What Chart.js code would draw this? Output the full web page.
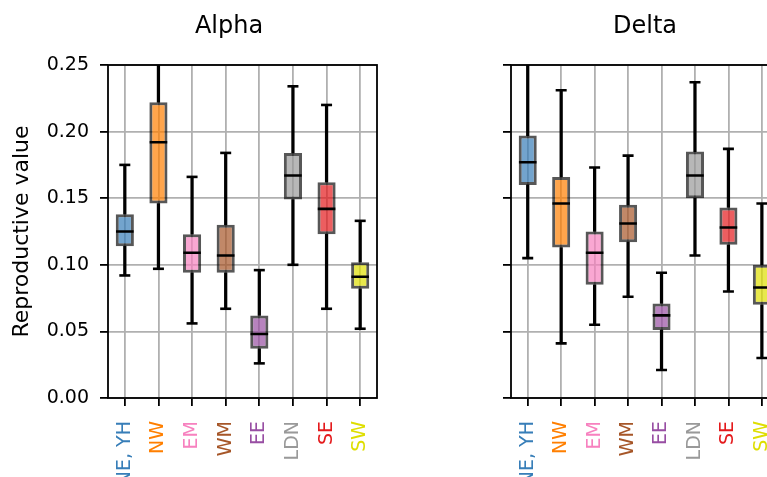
<!DOCTYPE html>
<html>
<head>
<meta charset="utf-8">
<script src="https://cdn.jsdelivr.net/npm/chart.js@4.4.0/dist/chart.umd.min.js"></script>
<style>
  html, body { margin: 0; padding: 0; background: #fff; overflow: hidden; }
  body { width: 767px; height: 477px; position: relative; }
  #alphaChart { position: absolute; left: 0; top: 0; }
  #deltaChart { position: absolute; left: 390px; top: 0; }
</style>
</head>
<body>
<canvas id="alphaChart" width="390" height="477"></canvas>
<canvas id="deltaChart" width="400" height="477"></canvas>
<script>
const regions = ["NE, YH", "NW", "EM", "WM", "EE", "LDN", "SE", "SW"];
const regionColors = ["#377eb8", "#ff7f00", "#f781bf", "#a65628", "#984ea3", "#999999", "#e41a1c", "#dede00"];
const yTicks = [0, 0.05, 0.1, 0.15, 0.2, 0.25];

// Alpha: whisker low, quartiles, median, whisker high
const alphaLow = [0.092, 0.097, 0.056, 0.067, 0.026, 0.100, 0.067, 0.052];
const alphaQ1 = [0.114, 0.146, 0.094, 0.094, 0.037, 0.149, 0.123, 0.082];
const alphaMed = [0.125, 0.192, 0.109, 0.107, 0.048, 0.167, 0.142, 0.091];
const alphaQ3 = [0.138, 0.222, 0.123, 0.130, 0.062, 0.184, 0.162, 0.102];
const alphaHigh = [0.175, 0.270, 0.166, 0.184, 0.096, 0.234, 0.220, 0.133];

// Delta
const deltaLow = [0.105, 0.041, 0.055, 0.076, 0.021, 0.107, 0.080, 0.030];
const deltaQ1 = [0.160, 0.113, 0.085, 0.117, 0.051, 0.150, 0.115, 0.070];
const deltaMed = [0.177, 0.146, 0.109, 0.131, 0.062, 0.167, 0.128, 0.083];
const deltaQ3 = [0.197, 0.166, 0.125, 0.145, 0.071, 0.185, 0.143, 0.100];
const deltaHigh = [0.290, 0.231, 0.173, 0.182, 0.094, 0.237, 0.187, 0.146];

Chart.defaults.font.family = "'DejaVu Sans', sans-serif";
Chart.defaults.color = "#000";

const gridColor = "#b0b0b0";

// panel title, drawn over the axes like matplotlib's ax.set_title
const panelTitle = {
  id: "panelTitle",
  afterDraw(chart, args, opts) {
    const ctx = chart.ctx;
    ctx.save();
    ctx.font = "24px 'DejaVu Sans'";
    ctx.fillStyle = "#000";
    ctx.textAlign = "center";
    ctx.textBaseline = "alphabetic";
    ctx.fillText(opts.text, opts.x, opts.y);
    ctx.restore();
  },
};

// black frame around the plot area
const frame = {
  id: "frame",
  afterDatasetsDraw(chart) {
    const { ctx, chartArea } = chart;
    ctx.save();
    ctx.strokeStyle = "#000";
    ctx.lineWidth = 1.8;
    ctx.strokeRect(chartArea.left, chartArea.top, chartArea.right - chartArea.left, chartArea.bottom - chartArea.top);
    ctx.restore();
  },
};

function pairs(a, b) {
  return a.map((v, i) => [v, b[i]]);
}

function capLine(values, radius) {
  return {
    type: "line",
    data: values,
    showLine: false,
    pointStyle: "line",
    pointRadius: radius,
    pointHoverRadius: radius,
    pointBorderWidth: 2.6,
    pointBorderColor: "#000",
    order: 0,
  };
}

function whisker(values) {
  return {
    type: "bar",
    data: values,
    backgroundColor: "#000",
    borderWidth: 0,
    barThickness: 2.6,
    grouped: false,
    order: 2,
  };
}

function boxDatasets(low, q1, med, q3, high) {
  return [
    capLine(med, 8.8),
    capLine(low, 5.5),
    capLine(high, 5.5),
    {
      type: "bar",
      data: pairs(q1, q3),
      backgroundColor: regionColors.map((c) => c + "b3"),
      borderColor: "rgba(0,0,0,0.66)",
      borderWidth: 3,
      borderSkipped: false,
      barPercentage: 0.54,
      categoryPercentage: 1,
      grouped: false,
      order: 1,
    },
    whisker(pairs(low, q1)),
    whisker(pairs(q3, high)),
  ];
}

function panelOptions(cfg) {
  return {
    responsive: false,
    animation: false,
    layout: { padding: { top: 65, right: cfg.padRight, bottom: 0, left: 0 } },
    plugins: {
      legend: { display: false },
      tooltip: { enabled: false },
      panelTitle: { text: cfg.title, x: cfg.titleX, y: 33 },
    },
    scales: {
      x: {
        type: "category",
        offset: true,
        border: { display: false },
        grid: {
          offset: false,
          color: gridColor,
          lineWidth: 1.8,
          tickColor: "#000",
          tickWidth: 1.8,
          tickLength: 8,
        },
        ticks: {
          color: (ctx) => regionColors[ctx.index],
          font: { size: 19 },
          minRotation: 90,
          maxRotation: 90,
          autoSkip: false,
          padding: 15,
        },
        afterFit: (s) => {
          s.height = 79;
          // rotated labels sit well inside the axis, keep the plot width fixed
          s.paddingLeft = 0;
          s.paddingRight = 0;
        },
      },
      y: {
        min: 0,
        max: 0.25,
        border: { display: false },
        grid: {
          color: gridColor,
          lineWidth: 1.8,
          tickColor: "#000",
          tickWidth: 1.8,
          tickLength: 8,
        },
        afterBuildTicks: (s) => {
          s.ticks = yTicks.map((v) => ({ value: v }));
        },
        ticks: {
          display: cfg.showYLabels,
          font: { size: 19 },
          padding: 11,
          callback: (v) => v.toFixed(2),
        },
        title: {
          display: cfg.showYLabels,
          text: "Reproductive value",
          font: { size: 22 },
          padding: { top: 9, bottom: 0 },
        },
        afterFit: (s) => {
          s.width = cfg.yWidth;
        },
      },
    },
  };
}

new Chart(document.getElementById("alphaChart"), {
  type: "bar",
  data: {
    labels: regions,
    datasets: boxDatasets(alphaLow, alphaQ1, alphaMed, alphaQ3, alphaHigh),
  },
  options: panelOptions({ title: "Alpha", titleX: 229, padRight: 13, yWidth: 108, showYLabels: true }),
  plugins: [frame, panelTitle],
});

new Chart(document.getElementById("deltaChart"), {
  type: "bar",
  data: {
    labels: regions,
    datasets: boxDatasets(deltaLow, deltaQ1, deltaMed, deltaQ3, deltaHigh),
  },
  options: panelOptions({ title: "Delta", titleX: 255, padRight: 11, yWidth: 121, showYLabels: false }),
  plugins: [frame, panelTitle],
});
</script>
</body>
</html>
